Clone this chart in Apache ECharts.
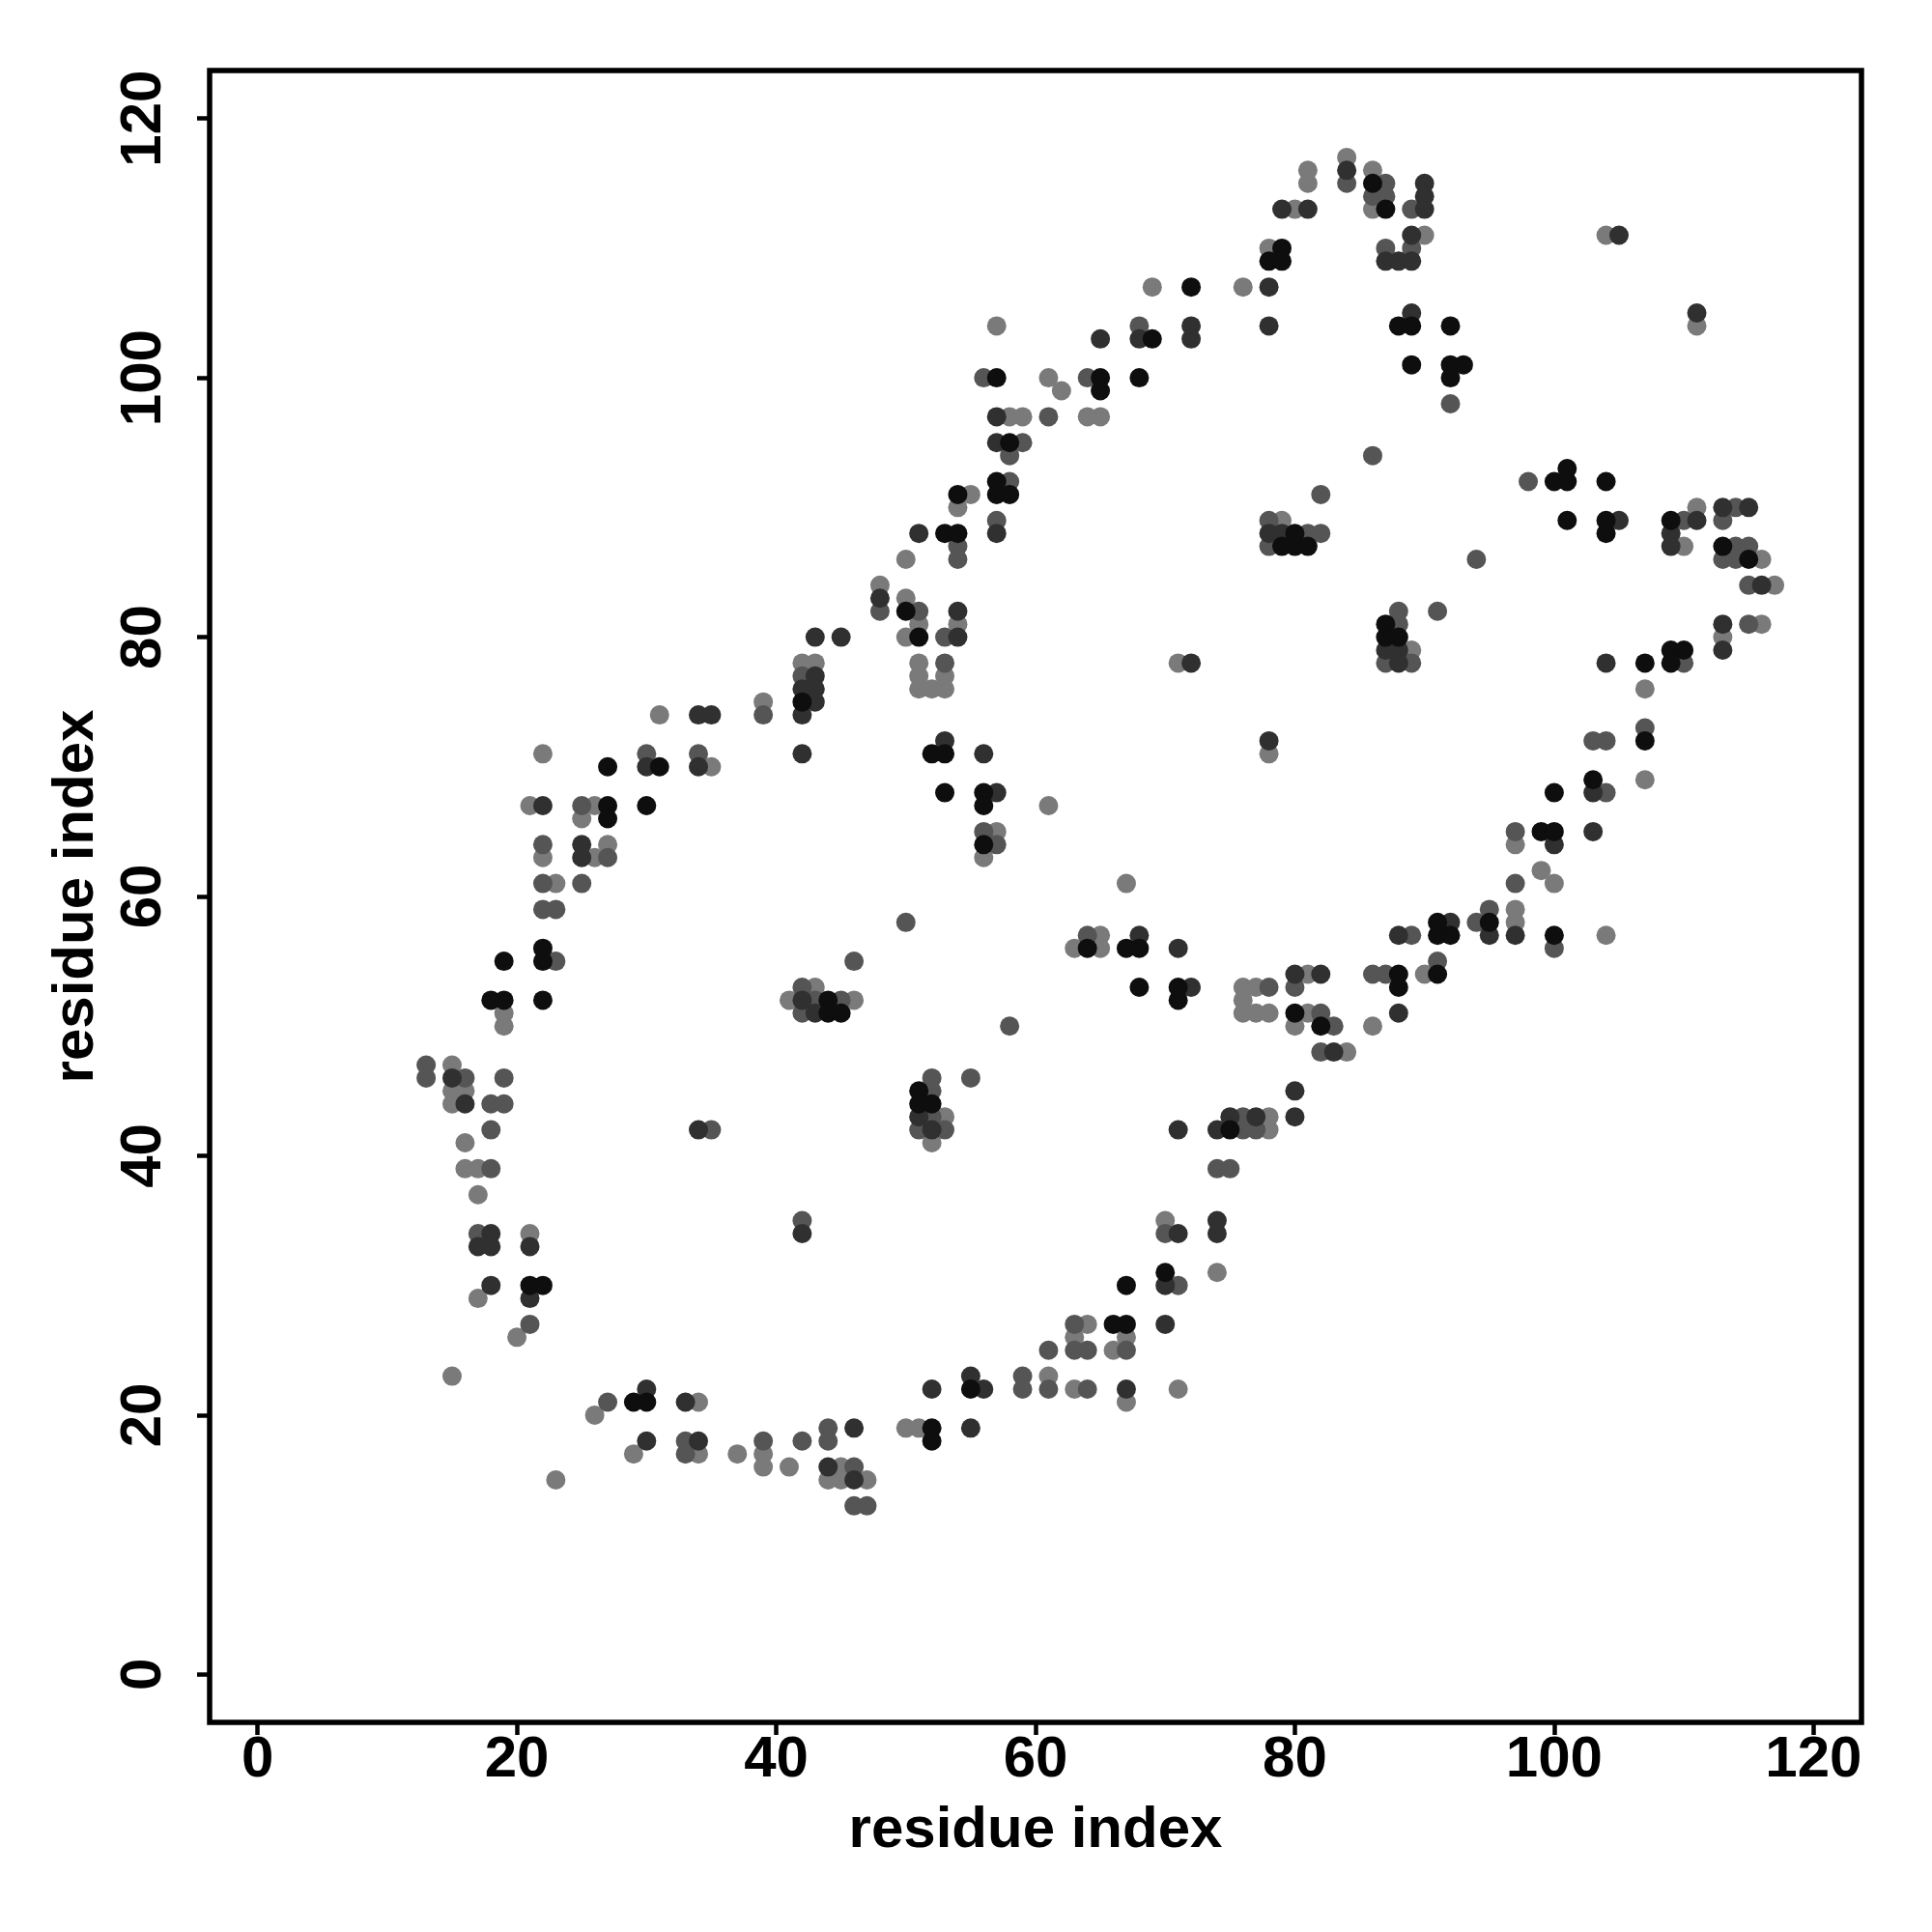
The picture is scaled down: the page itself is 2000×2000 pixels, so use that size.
<!DOCTYPE html>
<html>
<head>
<meta charset="utf-8">
<script src="https://cdn.jsdelivr.net/npm/echarts@6/dist/echarts.min.js"></script>
<style>html,body{margin:0;padding:0;background:#fff;}#chart{width:2000px;height:2000px;}</style>
</head>
<body>
<div id="chart"></div>
<script>
// Tick labels
const xTicks = [0, 20, 40, 60, 80, 100, 120];
const yTicks = [0, 20, 40, 60, 80, 100, 120];
const xTitle = 'residue index';
const yTitle = 'residue index';

// Contacts grouped by grey shade: [residue i, residue j]
const blackPts = [
[79,110],[78,109],[79,109],[72,107],[69,103],[57,100],[65,100],[65,99],[68,100],[58,95],[57,92],[57,91],[58,91],[54,91],[53,88],[54,88],[50,82],[80,88],[79,87],[80,87],[81,87],
[86,115],[87,113],[88,104],[89,104],[92,104],[89,101],[92,101],[93,101],[92,100],[100,92],[101,93],[101,92],[104,92],[101,89],[104,89],[104,88],[109,89],[113,87],[115,86],
[87,81],[87,80],[88,80],[109,79],[110,79],[109,78],[107,78],[107,72],[103,69],[100,68],[99,65],[100,65],[95,58],[100,57],[91,58],[91,57],[92,57],[91,54],[88,54],[88,53],
[51,80],[52,71],[53,71],[53,68],[56,68],[56,67],[56,64],[64,56],[67,56],[68,56],[68,53],[71,53],[71,52],[80,51],[82,50],
[42,75],[31,70],[27,70],[27,67],[27,66],[30,67],[22,56],[22,55],[19,55],[18,52],[19,52],[22,52],[44,52],[44,51],[45,51],
[21,30],[22,30],[29,21],[30,21],
[51,45],[51,44],[52,44],[75,42],[70,31],[67,30],[66,27],[67,27],[55,22],[52,19],[52,18]
];
const darkPts = [
[84,116],[79,113],[81,113],[78,107],[78,104],[65,103],[68,103],[72,104],[72,103],[57,95],[57,97],[57,88],[51,88],[48,83],[54,82],[78,88],[79,88],
[90,115],[90,114],[90,113],[89,111],[87,109],[88,109],[89,109],[105,111],[89,105],[111,105],[105,89],[111,89],[113,90],[115,90],[109,88],[109,87],[116,84],
[87,79],[88,79],[88,78],[113,81],[113,79],[104,78],[103,68],[103,65],[100,64],[95,57],[97,57],[92,58],[88,57],[88,51],[83,48],
[54,80],[72,78],[53,72],[56,71],[78,72],[57,68],[68,57],[71,56],[72,53],[80,54],[82,54],
[43,80],[45,80],[43,77],[42,76],[43,76],[43,75],[42,74],[34,74],[35,74],[42,71],[34,70],[30,70],[22,67],[25,64],[25,63],[42,52],[43,51],[15,46],
[16,44],[18,34],[17,33],[18,33],[21,33],[18,30],[21,29],[34,42],[42,34],[30,22],[33,21],[30,18],[34,18],[46,19],[44,16],[46,15],
[51,43],[52,42],[71,42],[74,42],[75,43],[77,43],[80,45],[80,43],[71,34],[74,35],[74,34],[70,30],[70,27],[55,23],[52,22],[56,22],[67,22],[55,19]
];
const midPts = [
[84,115],[68,104],[56,100],[64,100],[61,97],[59,95],[58,94],[58,92],[57,89],[54,87],[54,86],[48,82],[51,82],[82,91],[78,89],[81,88],[82,88],[78,87],
[87,115],[86,114],[87,114],[89,113],[87,110],[89,110],[92,98],[86,94],[98,92],[110,89],[114,90],[113,89],[114,87],[115,87],[113,86],[114,86],[115,84],[94,86],
[88,82],[91,82],[88,81],[87,78],[89,78],[115,81],[110,78],[107,73],[103,72],[104,72],[104,68],[97,65],[97,61],[95,59],[94,58],[100,56],[89,57],[91,55],[86,54],[87,54],[83,50],
[53,80],[53,78],[56,65],[57,64],[50,58],[64,57],[78,53],[80,53],[82,51],[82,48],[58,50],[52,46],[55,46],
[42,77],[39,74],[34,71],[30,71],[25,67],[22,64],[27,63],[22,61],[25,61],[22,59],[23,59],[23,55],[46,55],[42,53],[43,52],[45,52],[42,51],[13,47],[13,46],[16,46],[19,46],
[18,44],[19,44],[18,42],[18,39],[17,34],[21,27],[35,42],[42,35],[27,21],[33,18],[33,17],[39,18],[42,18],[44,19],[44,18],[46,16],[46,13],[47,13],
[52,45],[52,43],[51,42],[53,42],[76,42],[77,42],[76,43],[74,39],[75,39],[70,34],[71,30],[63,27],[61,25],[63,25],[64,25],[67,25],[59,23],[59,22],[61,22],[64,22]
];
const lightPts = [
[84,117],[81,116],[81,115],[80,113],[78,110],[69,107],[76,107],[57,104],[61,100],[62,99],[58,97],[59,97],[64,97],[65,97],[55,91],[54,90],[50,86],[48,84],[50,83],[79,89],
[86,116],[86,113],[90,111],[104,111],[111,104],[111,90],[110,87],[116,86],[117,84],
[89,79],[113,80],[116,81],[107,76],[107,69],[97,64],[99,62],[100,61],[97,59],[97,58],[104,57],[90,54],[86,50],[84,48],
[51,81],[54,81],[50,80],[51,78],[51,77],[53,77],[51,76],[52,76],[53,76],[71,78],[78,71],[61,67],[57,65],[56,63],[67,61],[65,57],[63,56],[65,56],[76,53],[77,53],[76,52],[76,51],[77,51],[78,51],[81,54],[81,51],[80,50],
[42,78],[43,78],[39,75],[31,74],[35,70],[22,71],[21,67],[26,67],[25,66],[22,63],[26,63],[27,64],[23,61],[19,51],[19,50],[41,52],[43,53],[46,52],[15,47],
[15,45],[16,45],[15,44],[16,41],[16,39],[17,39],[17,37],[21,34],[17,29],[20,26],[15,23],[26,20],[34,21],[29,17],[34,17],[37,17],[39,17],[39,16],[41,16],[45,16],[44,15],[45,15],[47,15],[23,15],
[53,43],[52,41],[78,42],[78,43],[70,35],[74,31],[64,27],[63,26],[67,26],[66,25],[61,23],[63,22],[67,21],[71,22],[50,19],[51,19]
];

const FONT = 'Liberation Sans';
const chart = echarts.init(document.getElementById('chart'), null, {renderer: 'canvas'});
function shade(data, color) {
  return {
    type: 'scatter', data: data, symbol: 'circle', symbolSize: 20,
    itemStyle: {color: color, opacity: 1}, emphasis: {disabled: true}, silent: true
  };
}
chart.setOption({
  animation: false,
  backgroundColor: '#ffffff',
  textStyle: {fontFamily: FONT},
  grid: {left: 217, top: 73, width: 1710, height: 1710, show: true,
         borderColor: '#000', borderWidth: 5.5, backgroundColor: 'transparent'},
  xAxis: {
    type: 'value', min: -3.7, max: 123.7,
    name: xTitle, nameLocation: 'middle', nameGap: 82,
    nameTextStyle: {fontSize: 60, fontWeight: 'bold', color: '#000', fontFamily: FONT},
    axisLine: {show: false, onZero: false},
    splitLine: {show: false},
    axisTick: {show: true, customValues: xTicks, length: 13, lineStyle: {color: '#000', width: 4.5}},
    axisLabel: {customValues: xTicks, fontSize: 60, fontWeight: 'bold', color: '#000', margin: 9, fontFamily: FONT}
  },
  yAxis: {
    type: 'value', min: -3.7, max: 123.7,
    name: yTitle, nameLocation: 'middle', nameGap: 108,
    nameTextStyle: {fontSize: 60, fontWeight: 'bold', color: '#000', fontFamily: FONT},
    axisLine: {show: false, onZero: false},
    splitLine: {show: false},
    axisTick: {show: true, customValues: yTicks, length: 13, lineStyle: {color: '#000', width: 4.5}},
    axisLabel: {customValues: yTicks, rotate: 90, fontSize: 60, fontWeight: 'bold', color: '#000', margin: 38, fontFamily: FONT}
  },
  series: [
    shade(lightPts, '#7a7a7a'),
    shade(midPts, '#555555'),
    shade(darkPts, '#303030'),
    shade(blackPts, '#0e0e0e')
  ]
});
</script>
</body>
</html>
